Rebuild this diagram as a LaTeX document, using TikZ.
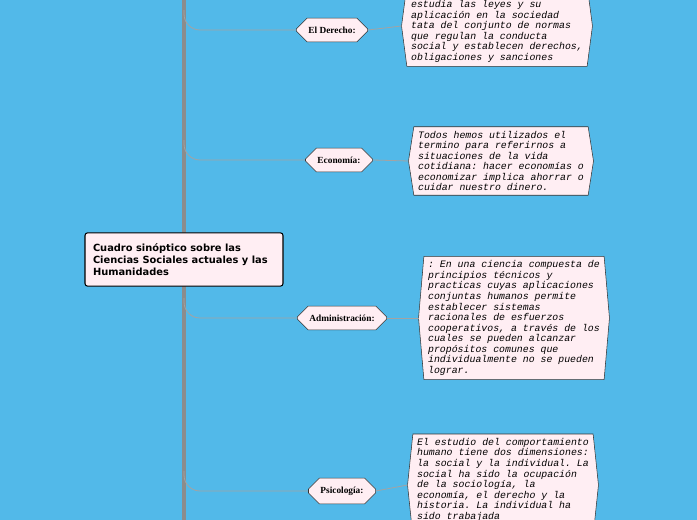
\documentclass[tikz,border=0pt]{standalone}
\usepackage{fontspec}
\setmainfont{Liberation Serif}
\setsansfont{DejaVu Sans}
\setmonofont{Liberation Mono}
\usetikzlibrary{shapes.misc,positioning,backgrounds}
\definecolor{sky}{HTML}{52B9E9}
\definecolor{pinkfill}{HTML}{FFEEF3}
\definecolor{trunkgray}{HTML}{8C8C8C}
\tikzset{
  topic/.style={chamfered rectangle, chamfered rectangle xsep=5pt, draw=black!80, fill=pinkfill,
    font=\rmfamily\bfseries\fontsize{7}{8}\selectfont, inner xsep=4pt, minimum height=15pt},
  note/.style={font=\ttfamily\itshape\fontsize{7.4}{7.9}\selectfont, align=left,
    inner xsep=3pt, inner ysep=3pt},
  link/.style={draw=trunkgray!80, line width=0.6pt},
}
\begin{document}
\begin{tikzpicture}[x=0.75pt,y=-0.75pt]
  \useasboundingbox (0,0) rectangle (697,520);
  % central box
  \node[draw=black, fill=pinkfill, rounded corners=2pt, line width=0.8pt, text width=182pt*0.75,
    align=flush left, font=\sffamily\bfseries\fontsize{7.4}{9.2}\selectfont, minimum height=40pt,
    inner xsep=6pt] (root) at (184,259.5)
    {Cuadro sinóptico sobre las Ciencias Sociales actuales y las Humanidades};
  % topics
  \node[topic] (der) at (332,30) {El Derecho:};
  \node[topic] (eco) at (339,160) {Economía:};
  \node[topic] (adm) at (342,318) {Administración:};
  \node[topic] (psi) at (342,491) {Psicología:};
  % notes
  \node[note] (nder) at (497,26) {Es la ciencia social que\\estudia las leyes y su\\aplicación en la sociedad\\tata del conjunto de normas\\que regulan la conducta\\social y establecen derechos,\\obligaciones y sanciones};
  \node[note] (neco) at (501,161) {Todos hemos utilizados el\\termino para referirnos a\\situaciones de la vida\\cotidiana: hacer economías o\\economizar implica ahorrar o\\cuidar nuestro dinero.};
  \node[note] (nadm) at (514,318) {: En una ciencia compuesta de\\principios técnicos y\\practicas cuyas aplicaciones\\conjuntas humanos permite\\establecer sistemas\\racionales de esfuerzos\\cooperativos, a través de los\\cuales se pueden alcanzar\\propósitos comunes que\\individualmente no se pueden\\lograr.};
  \node[note] (npsi) at (503,485) {El estudio del comportamiento\\humano tiene dos dimensiones:\\la social y la individual. La\\social ha sido la ocupación\\de la sociología, la\\economía, el derecho y la\\historia. La individual ha\\sido trabajada\\por la psicología.};
  \begin{scope}[on background layer]
    \fill[sky] (0,0) rectangle (697,520);
    % trunk
    \coordinate (top) at (184,0);
    \coordinate (bot) at (184,520);
    \draw[trunkgray, line width=3pt] (top) -- (bot);
    % note frames
    \foreach \n in {nder,neco,nadm,npsi}
      \draw[black!80, fill=pinkfill] (\n.north west) -- (\n.north east) -- ([xshift=4pt]\n.east)
        -- (\n.south east) -- (\n.south west) -- ([xshift=-4pt]\n.west) -- cycle;
    % connectors
    \foreach \t/\n/\yy in {der/nder/30, eco/neco/160, adm/nadm/318, psi/npsi/491}{
      \draw[link, rounded corners=12pt] (184,\yy-20) -- (184,\yy) -- (\t.west);
      \draw[link] (\t.east) -- ([xshift=-4pt]\n.west);
    }
  \end{scope}
\end{tikzpicture}
\end{document}
